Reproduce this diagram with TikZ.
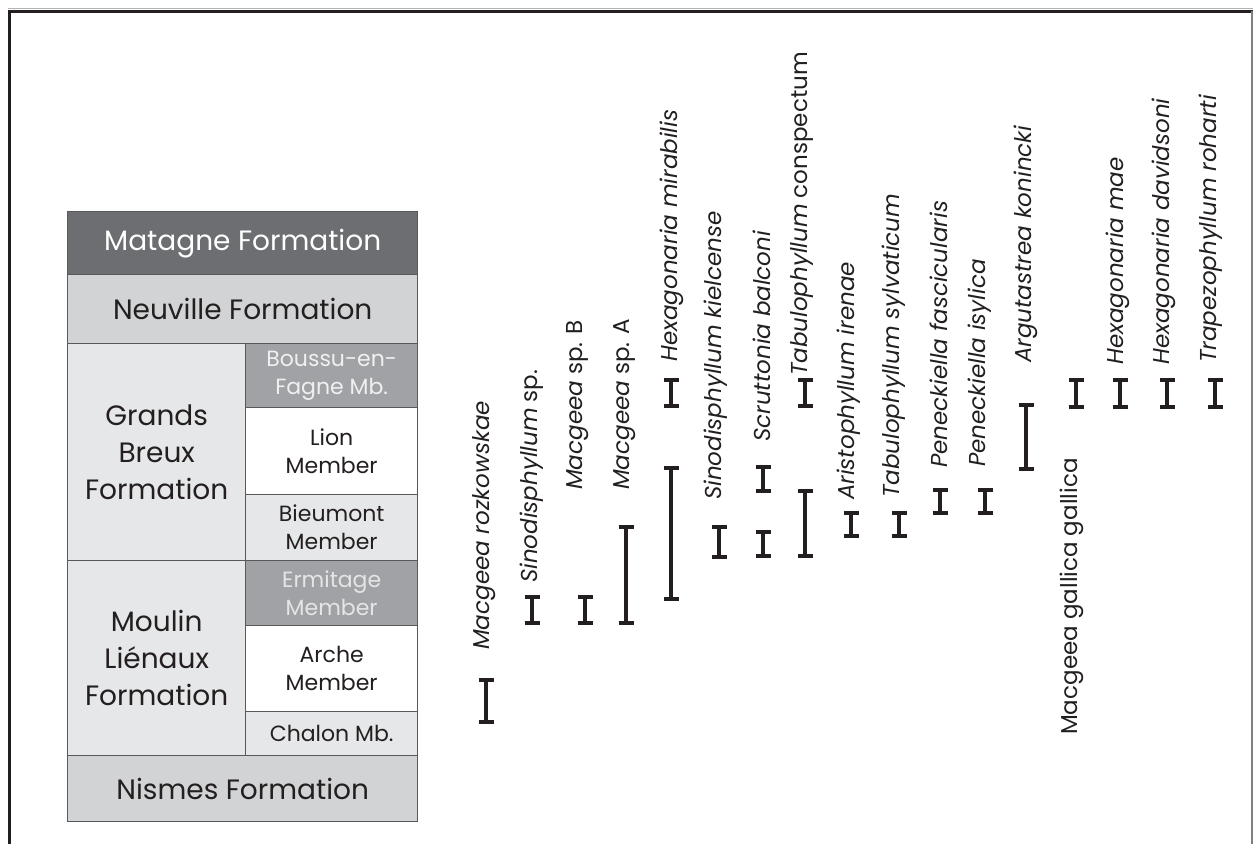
\documentclass[tikz,border=0pt]{standalone}
\usepackage{fontspec}
\setmainfont{Poppins}
\definecolor{darkcell}{HTML}{6D6E71}
\definecolor{midcell}{HTML}{A0A2A5}
\definecolor{lightcell}{HTML}{D1D3D4}
\definecolor{palecell}{HTML}{E6E7E8}
\definecolor{cellline}{HTML}{58595B}
\definecolor{ink}{HTML}{231F20}
\newcommand{\rangebar}[3]{\draw[rbar] (#1-7.5,#2) -- (#1+7.5,#2) (#1,#2) -- (#1,#3) (#1-7.5,#3) -- (#1+7.5,#3);}
\begin{document}
\begin{tikzpicture}[x=1pt,y=-1pt,
  cell/.style={draw=cellline, line width=1.4pt, anchor=north west, inner sep=0pt, align=center, text=ink},
  fmt/.style={font=\fontsize{28}{37}\selectfont},
  mbr/.style={font=\fontsize{22}{28}\selectfont},
  sp/.style={rotate=90, anchor=west, inner sep=0pt, text=ink, font=\fontsize{23}{26}\selectfont},
  rbar/.style={draw=ink, line width=3.4pt}]
\useasboundingbox (0,0) rectangle (1253,844);
% frame
\draw[gray!60, line width=0.8pt] (8,8.5) -- (1253,8.5);
\draw[ink, line width=3pt] (9.5,844) -- (9.5,11.5) -- (1253,11.5);
\draw[gray, line width=1.2pt] (1252,11) -- (1252,844);
% stratigraphic column
\node[cell, fmt, fill=darkcell, text=white, minimum width=350pt, minimum height=63pt] (matagne) at (67,211) {Matagne Formation};
\node[cell, fmt, fill=lightcell, minimum width=350pt, minimum height=69pt] (neuville) at (67,274) {Neuville Formation};
\node[cell, fmt, fill=palecell, minimum width=178pt, minimum height=217pt] (grands) at (67,343) {Grands\\Breux\\Formation};
\node[cell, mbr, fill=midcell, text=white!94!black, minimum width=172pt, minimum height=64pt] (boussu) at (245,343) {Boussu-en-\\Fagne Mb.};
\node[cell, mbr, fill=white, minimum width=172pt, minimum height=87pt] (lion) at (245,407) {Lion\\Member};
\node[cell, mbr, fill=palecell, minimum width=172pt, minimum height=66pt] (bieumont) at (245,494) {Bieumont\\Member};
\node[cell, fmt, fill=palecell, minimum width=178pt, minimum height=195pt] (moulin) at (67,560) {Moulin\\Liénaux\\Formation};
\node[cell, mbr, fill=midcell, text=white!90!black, minimum width=172pt, minimum height=65pt] (ermitage) at (245,560) {Ermitage\\Member};
\node[cell, mbr, fill=white, minimum width=172pt, minimum height=86pt] (arche) at (245,625) {Arche\\Member};
\node[cell, mbr, fill=palecell, minimum width=172pt, minimum height=44pt] (chalon) at (245,711) {Chalon Mb.};
\node[cell, fmt, fill=lightcell, minimum width=350pt, minimum height=66pt] (nismes) at (67,755) {Nismes Formation};
% species labels
\node[sp] (s1) at (484,650) {\textit{Macgeea rozkowskae}};
\node[sp] (s2) at (532,583) {\textit{Sinodisphyllum} sp.};
\node[sp] (s3) at (578,490) {\textit{Macgeea} sp. B};
\node[sp] (s4) at (625,490) {\textit{Macgeea} sp. A};
\node[sp] (s5) at (672,362) {\textit{Hexagonaria mirabilis}};
\node[sp] (s6) at (716,500) {\textit{Sinodisphyllum kielcense}};
\node[sp] (s7) at (762,442) {\textit{Scruttonia balconi}};
\node[sp] (s8) at (802,376) {\textit{Tabulophyllum} conspectum};
\node[sp] (s9) at (849,500) {\textit{Aristophyllum irenae}};
\node[sp] (s10) at (894,498) {\textit{Tabulophyllum sylvaticum}};
\node[sp] (s11) at (939,468) {\textit{Peneckiella fascicularis}};
\node[sp] (s12) at (980,467) {\textit{Peneckiella isylica}};
\node[sp] (s13) at (1026,363) {\textit{Argutastrea konincki}};
\node[sp] (s14) at (1072,735) {Macgeea gallica gallica};
\node[sp] (s15) at (1118,365) {\textit{Hexagonaria mae}};
\node[sp] (s16) at (1164,365) {\textit{Hexagonaria davidsoni}};
\node[sp] (s17) at (1211,363) {\textit{Trapezophyllum roharti}};
% range bars
\rangebar{486}{680}{722}
\rangebar{532}{597}{623}
\rangebar{585}{597}{623}
\rangebar{626}{527}{623}
\rangebar{671}{380}{406}
\rangebar{671}{468}{599}
\rangebar{719}{527}{557}
\rangebar{763}{467}{491}
\rangebar{763}{532}{556}
\rangebar{805}{380}{406}
\rangebar{805}{491}{556}
\rangebar{851}{513}{536}
\rangebar{899}{513}{536}
\rangebar{940}{490}{513}
\rangebar{985}{490}{513}
\rangebar{1026}{405}{469}
\rangebar{1076}{380}{407}
\rangebar{1120}{380}{407}
\rangebar{1167}{380}{407}
\rangebar{1215}{380}{407}
\end{tikzpicture}
\end{document}
